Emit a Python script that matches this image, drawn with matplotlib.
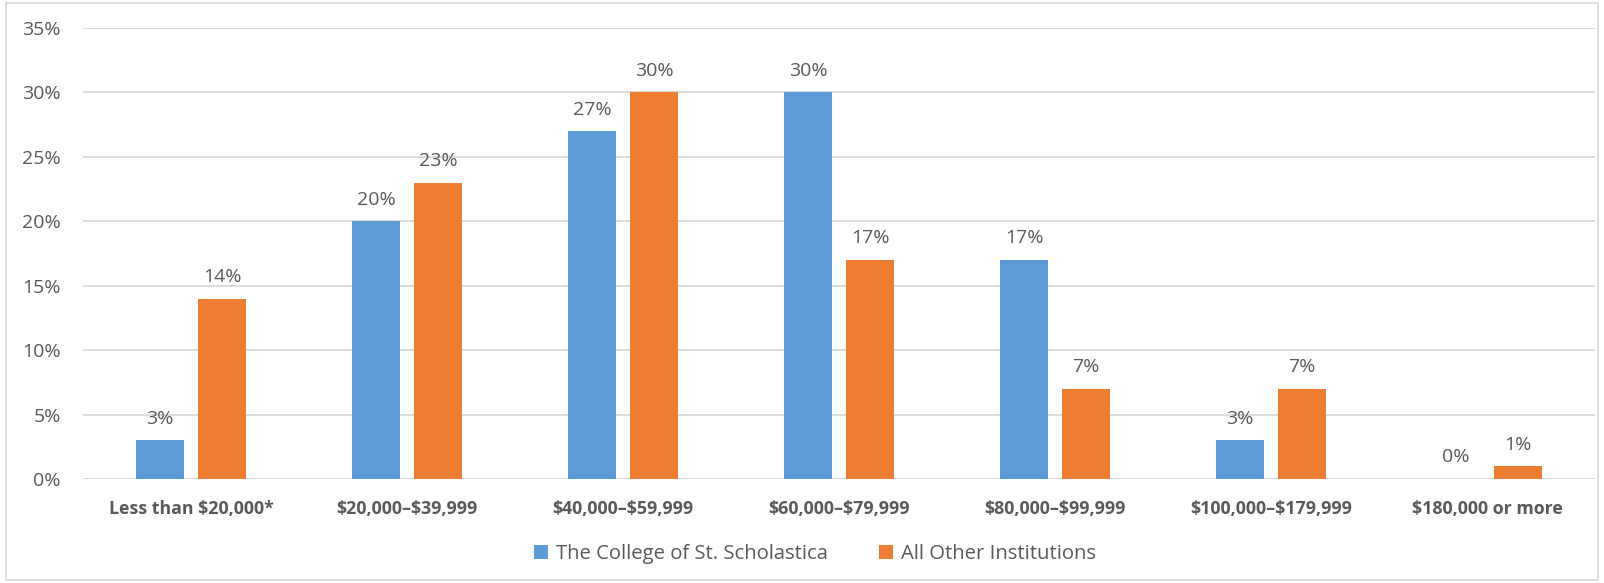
import matplotlib.pyplot as plt
from matplotlib.patches import Rectangle
import numpy as np

plt.rcParams['font.family'] = ['Open Sans', 'DejaVu Sans']
plt.rcParams['text.parse_math'] = False

categories = ["Less than $20,000*", "$20,000\u2013$39,999", "$40,000\u2013$59,999",
              "$60,000\u2013$79,999", "$80,000\u2013$99,999", "$100,000\u2013$179,999",
              "$180,000 or more"]
scholastica = [3, 20, 27, 30, 17, 3, 0]
other_inst = [14, 23, 30, 17, 7, 7, 1]
series_names = ["The College of St. Scholastica", "All Other Institutions"]

blue = "#5B9BD5"
orange = "#ED7D31"
text_gray = "#595959"
grid_gray = "#D9D9D9"

W, H = 1604, 583
fig = plt.figure(figsize=(W / 100, H / 100), dpi=100)
ax = fig.add_axes([83 / W, 1 - 479 / H, (1595 - 83) / W, (479 - 28) / H])

x = np.arange(len(categories))
width = 0.222
off = 0.1435
b1 = ax.bar(x - off, scholastica, width, color=blue, label=series_names[0], zorder=3)
b2 = ax.bar(x + off, other_inst, width, color=orange, label=series_names[1], zorder=3)

for bars in (b1, b2):
    ax.bar_label(bars, labels=[f"{v:.0f}%" for v in bars.datavalues],
                 padding=9, fontsize=14, color=text_gray)

ax.set_xlim(-0.5, len(categories) - 0.5)
ax.set_ylim(0, 35)
ax.set_yticks(range(0, 36, 5))
ax.set_yticklabels([f"{t}%" for t in range(0, 36, 5)])
ax.set_xticks(x)
ax.set_xticklabels(categories, fontweight="bold")
ax.tick_params(axis="y", length=0, pad=16, labelsize=14, labelcolor=text_gray)
ax.tick_params(axis="x", length=0, pad=15, labelsize=12.8, labelcolor=text_gray)
ax.grid(axis="y", color=grid_gray, linewidth=1.3, zorder=0)
for s in ax.spines.values():
    s.set_visible(False)

fig.legend(handles=[b1, b2], loc="center", bbox_to_anchor=(815 / W, 1 - 554 / H),
           ncol=2, frameon=False, fontsize=14.6, labelcolor=text_gray,
           handlelength=0.7, handleheight=0.7, handletextpad=0.4, columnspacing=2.5)

fig.patches.append(Rectangle((6 / W, 3 / H), (W - 12) / W, (H - 6) / H,
                             transform=fig.transFigure, fill=False,
                             edgecolor=grid_gray, linewidth=1.2))

fig.savefig("out.png", dpi=100)
